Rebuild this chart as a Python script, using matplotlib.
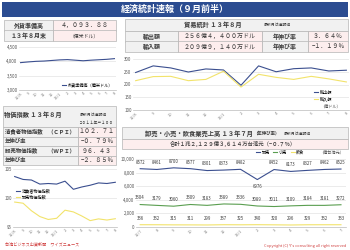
import matplotlib.pyplot as plt
from matplotlib.patches import Rectangle

plt.rcParams['font.family'] = ['Noto Sans CJK JP', 'DejaVu Sans']

# データ
months_a = ['12/8', '9', '10', '11', '12', '13/1', '2', '3', '4', '5', '6', '7', '8']
months_b = ['12/7', '8', '9', '10', '11', '12', '13/1', '2', '3', '4', '5', '6', '7']

reserve = [3955, 3980, 4000, 4010, 4030, 4050, 4060, 4040, 4020, 4040, 4055, 4070, 4094]

exports = [247, 273, 265, 249, 261, 257, 197, 273, 250, 262, 265, 253, 256]
imports = [215, 231, 232, 215, 220, 252, 190, 240, 228, 220, 232, 222, 210]

cpi = [103.7, 103.2, 103.1, 102.4, 102.5, 102.4, 102.9, 101.5, 101.9, 102.2, 102.6, 102.5, 102.71]
wpi = [99.3, 99.1, 97.8, 96.8, 96.3, 96.5, 97.9, 97.6, 96.9, 96.1, 96.4, 96.2, 96.43]

wholesale = [8572, 8461, 8700, 8577, 8301, 8373, 8482, 6976, 8452, 8173, 8327, 8462, 8525]
retail = [3304, 3179, 3060, 3309, 3183, 3389, 3336, 3089, 3011, 3109, 3184, 3181, 3272]
food = [336, 332, 315, 311, 299, 337, 325, 340, 320, 296, 329, 332, 333]

NAVY = '#3b4f8f'
YELLOW = '#f2e36b'
GREEN = '#5a9e50'
GRAY_BG = '#f1f1f1'
PINK_BG = '#fdeeee'
EDGE = '#b5b5b5'
TXT = '#3a3a3a'

W, H = 350, 250
fig = plt.figure(figsize=(3.5, 2.5), dpi=100)


def box(x0, y0, x1, y1, fc):
    fig.patches.append(Rectangle((x0 / W, 1 - y1 / H), (x1 - x0) / W, (y1 - y0) / H,
                                 transform=fig.transFigure, fc=fc, ec=EDGE, lw=0.5))


def txt(x, y, s, size=4.3, ha='center', color=TXT, weight='medium'):
    fig.text(x / W, 1 - y / H, s, fontsize=size, ha=ha, va='center',
             color=color, fontweight=weight)


def ax_at(x0, y0, x1, y1):
    return fig.add_axes([x0 / W, 1 - y1 / H, (x1 - x0) / W, (y1 - y0) / H])


def style(ax, yticks, labels, xlabels):
    ax.set_yticks(yticks)
    ax.set_yticklabels(labels, fontsize=3.2, color='#555555')
    ax.set_xticks(range(len(xlabels)))
    ax.set_xticklabels(xlabels, fontsize=3, color='#888888', rotation=45,
                       ha='right', rotation_mode='anchor')
    ax.grid(axis='y', color='#dcdcdc', lw=0.4)
    ax.set_axisbelow(True)
    for s in ['top', 'right', 'left']:
        ax.spines[s].set_visible(False)
    ax.spines['bottom'].set_color('#bbbbbb')
    ax.spines['bottom'].set_linewidth(0.5)
    ax.tick_params(length=0, pad=1)
    ax.set_facecolor('none')


#タイトル
fig.patches.append(Rectangle((2 / W, 1 - 17 / H), 346 / W, 15 / H, transform=fig.transFigure,
                             fc='#2b4c91', ec='none'))
txt(175, 9.5, '経済統計速報（９月前半）', size=6.5, color='white', weight='bold')

#外貨準備高
box(4, 20, 53, 30.5, GRAY_BG)
box(53, 20, 116, 30.5, PINK_BG)
box(4, 30.5, 53, 41, GRAY_BG)
box(53, 30.5, 116, 41, PINK_BG)
txt(28.5, 25.2, '外貨準備高', weight='bold')
txt(84.5, 25.2, '４，０９３．８８', weight='normal')
txt(28.5, 35.7, '１３年８月末', weight='bold')
txt(84.5, 35.7, '（億米ドル）', size=3.5, weight='normal')

ax1 = ax_at(19, 47, 116, 90)
ax1.plot(range(13), reserve, color=NAVY, lw=0.8, label='外貨準備高（億米ドル）')
ax1.set_ylim(3000, 4500)
ax1.set_xlim(-0.2, 12.2)
style(ax1, [3000, 3500, 4000, 4500], ['3,000', '3,500', '4,000', '4,500'], months_a)
ax1.legend(loc='lower right', fontsize=3, frameon=False, handlelength=1,
           handletextpad=0.4, borderaxespad=0.3)

#貿易統計
box(125, 19, 348, 31, GRAY_BG)
box(125, 31, 178, 41.5, GRAY_BG)
box(178, 31, 262, 41.5, PINK_BG)
box(262, 31, 308, 41.5, GRAY_BG)
box(308, 31, 348, 41.5, PINK_BG)
box(125, 41.5, 178, 52, GRAY_BG)
box(178, 41.5, 262, 52, PINK_BG)
box(262, 41.5, 308, 52, GRAY_BG)
box(308, 41.5, 348, 52, PINK_BG)
txt(213, 25, '貿易統計 １３年８月', size=4.5, weight='bold')
txt(277, 25, '最新月は速報値', size=2.8, weight='normal')
txt(151.5, 36.3, '輸出額', weight='bold')
txt(220, 36.3, '２５６億４，４００万ドル', weight='normal')
txt(285, 36.3, '年伸び率', weight='bold')
txt(328, 36.3, '３．６４％', weight='normal')
txt(151.5, 46.8, '輸入額', weight='bold')
txt(220, 46.8, '２０９億９，１４０万ドル', weight='normal')
txt(285, 46.8, '年伸び率', weight='bold')
txt(328, 46.8, '−１．１９％', weight='normal')

ax2 = ax_at(133, 59, 349, 110)
ax2.plot(range(13), exports, color=NAVY, lw=0.8, label='輸出額')
ax2.plot(range(13), imports, color=YELLOW, lw=0.8, label='輸入額')
ax2.set_ylim(100, 300)
ax2.set_xlim(-0.15, 12.15)
style(ax2, [100, 150, 200, 250, 300], ['100', '150', '200', '250', '300'], months_a)
ax2.legend(loc='upper left', bbox_to_anchor=(312 / W, 1 - 89 / H), bbox_transform=fig.transFigure,
           fontsize=3, frameon=False, handlelength=1, handletextpad=0.4, labelspacing=0.5,
           borderaxespad=0)
txt(330, 106.5, '（億ドル）', size=3, weight='normal', color='#555555')

#物価指数
box(3, 106, 116, 127, GRAY_BG)
rows = [('消費者物価指数　（ＣＰＩ）', '１０２．７１'),
        ('年伸び率', '−０．７９％'),
        ('卸売物価指数　　（ＷＰＩ）', '９６．４３'),
        ('年伸び率', '−２．８５％')]
for i, (name, val) in enumerate(rows):
    y0 = 127 + i * 9.6
    box(3, y0, 78, y0 + 9.6, GRAY_BG)
    box(78, y0, 116, y0 + 9.6, PINK_BG)
    txt(5, y0 + 4.8, name, size=3.9, ha='left', weight='bold')
    txt(97, y0 + 4.8, val, weight='normal')
txt(33, 115, '物価指数 １３年８月', size=4.5, weight='bold')
txt(93, 115, '最新月は速報値', size=2.8, weight='normal')
txt(96, 122.5, '２０１１年＝１００', size=2.8, weight='normal')

ax3 = ax_at(13, 169, 117, 227)
ax3.plot(range(13), cpi, color=NAVY, lw=0.8, label='消費者物価指数')
ax3.plot(range(13), wpi, color=YELLOW, lw=0.8, label='卸売物価指数')
ax3.set_ylim(95, 105)
ax3.set_xlim(-0.2, 12.2)
style(ax3, [95, 100, 105], ['95', '100', '105'], months_a)
ax3.legend(loc='upper left', bbox_to_anchor=(14 / W, 1 - 187 / H), bbox_transform=fig.transFigure,
           fontsize=3, frameon=False, handlelength=1, handletextpad=0.4, labelspacing=0.5,
           borderaxespad=0)

#卸売・小売・飲食業売上高
box(122, 127, 348, 139, GRAY_BG)
box(122, 139, 348, 149, PINK_BG)
txt(199, 133.3, '卸売・小売・飲食業売上高 １３年７月', size=4.5, weight='bold')
txt(266, 133.5, '（年伸び率）', size=3.2, weight='bold')
txt(297, 133.5, '最新月は速報値', size=2.8, weight='normal')
txt(233, 144, '合計１兆２,１２９億３,６１４万台湾元（−０.７％）', size=3.9)

ax4 = ax_at(136, 159, 346, 227)
ax4.plot(range(13), wholesale, color=NAVY, lw=0.8, label='卸売')
ax4.plot(range(13), retail, color=GREEN, lw=0.8, label='小売')
ax4.plot(range(13), food, color=YELLOW, lw=0.8, label='飲食')
ax4.set_ylim(0, 10000)
ax4.set_xlim(-0.25, 12.3)
style(ax4, [0, 2000, 4000, 6000, 8000, 10000],
      ['0', '2,000', '4,000', '6,000', '8,000', '10,000'], months_b)
for series in (wholesale, retail, food):
    for i, v in enumerate(series):
        below = v == 6976
        ax4.annotate(str(v), (i, v), xytext=(0, -3.5 if below else 3), textcoords='offset points',
                     ha='center', va='top' if below else 'bottom', fontsize=3.1, color=TXT)
ax4.legend(loc='center left', bbox_to_anchor=(254 / W, 1 - 152.5 / H), bbox_transform=fig.transFigure,
           ncol=3, fontsize=3, frameon=False, handlelength=1, handletextpad=0.4,
           columnspacing=0.8, borderaxespad=0)
txt(332, 152.5, '（億台湾元）', size=3, weight='normal', color='#555555')

#出典
txt(5, 244.5, '台湾ビジネス出資新聞　ワイズニュース', size=3, ha='left', color='#d04040', weight='normal')
txt(346, 246.5, "Copyright (C) Y's consulting all right reserved", size=2.8, ha='right',
    color='#d04040', weight='normal')

fig.savefig('out.png', dpi=100)
